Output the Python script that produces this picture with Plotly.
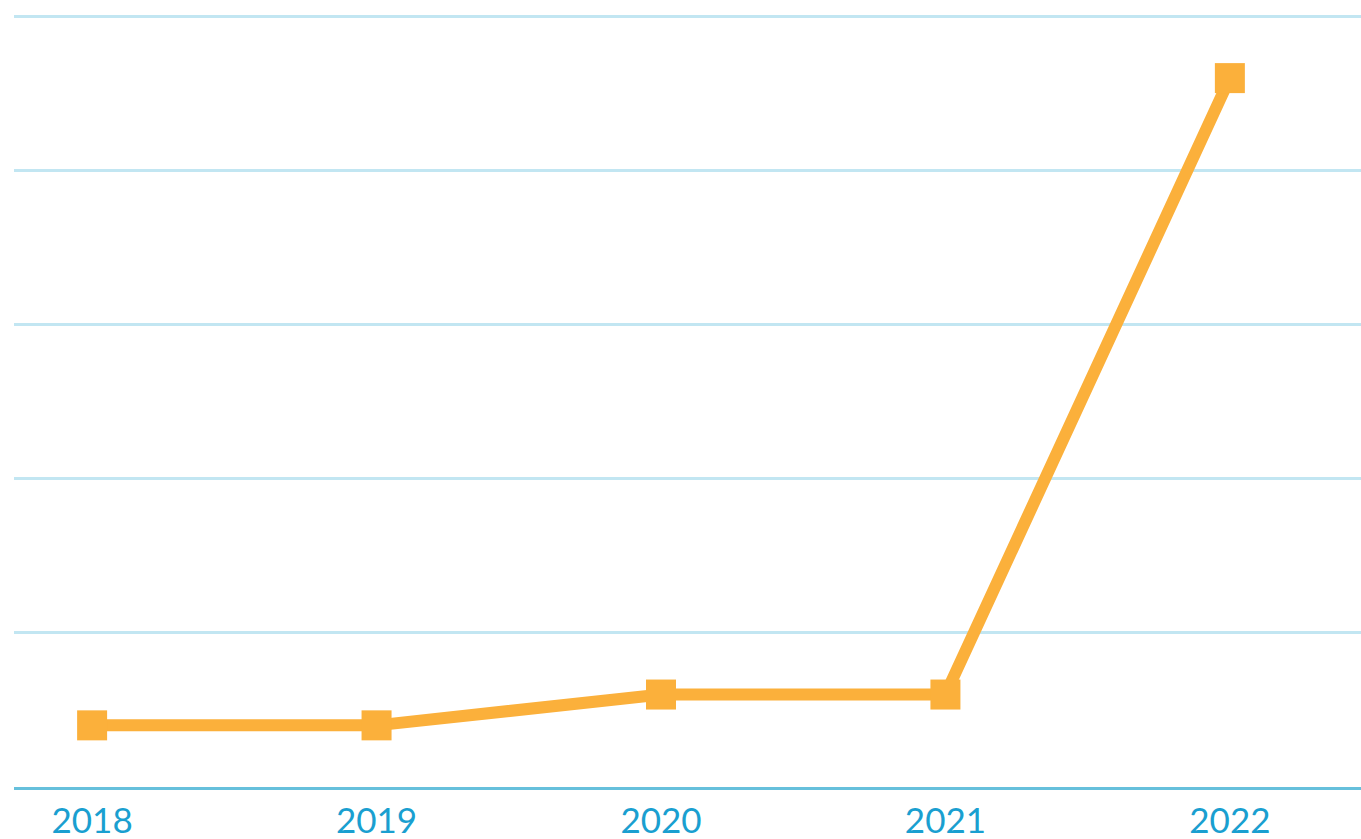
import plotly.graph_objects as go

years = ["2018", "2019", "2020", "2021", "2022"]
values = [2, 2, 3, 3, 23]
y_ticks = [0, 5, 10, 15, 20, 25]

fig = go.Figure()
fig.add_trace(go.Scatter(
    x=years, y=values, mode="lines+markers",
    line=dict(color="#FBB03B", width=12),
    marker=dict(symbol="square", size=30, color="#FBB03B"),
    showlegend=False, cliponaxis=False, hoverinfo="skip",
))

fig.update_layout(
    width=1361, height=839,
    margin=dict(l=14, r=0, t=14, b=52, autoexpand=False),
    paper_bgcolor="white", plot_bgcolor="white",
    xaxis=dict(
        type="category", range=[-0.2746, 4.461], automargin=False,
        showgrid=False, zeroline=False,
        showline=True, linecolor="#66C0DC", linewidth=3,
        ticks="", ticklabelstandoff=1,
        tickfont=dict(family="Lato", size=35, color="#1A9FD0"),
    ),
    yaxis=dict(
        range=[0, 25.08], tickvals=y_ticks, showticklabels=False,
        automargin=False,
        showgrid=True, gridcolor="#C2E6F2", gridwidth=2.5,
        zeroline=False, showline=False,
    ),
)

# remove the default 8px body margin so the figure fills the window exactly
fig.write_html(
    "out.html",
    config={"displayModeBar": False},
    post_script="document.body.style.margin='0';document.body.style.overflow='hidden';",
)
